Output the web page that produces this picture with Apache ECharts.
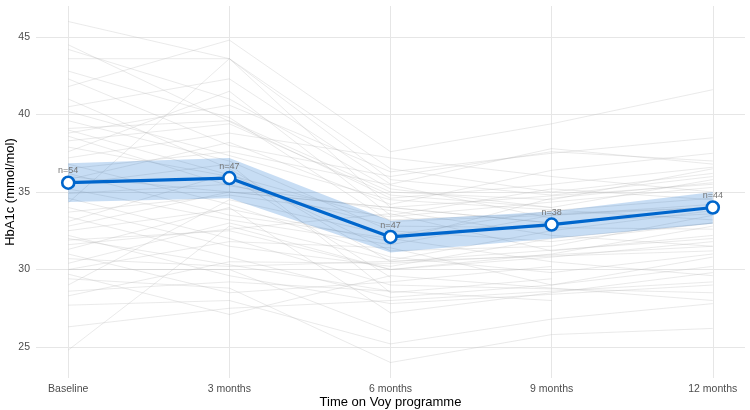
<!DOCTYPE html>
<html>
<head>
<meta charset="utf-8">
<title>HbA1c over time</title>
<script src="https://cdn.jsdelivr.net/npm/echarts@6/dist/echarts.min.js"></script>
<style>
    html, body { margin: 0; padding: 0; background: #fff; }
    #chart { width: 750px; height: 410px; }
</style>
</head>
<body>
<div id="chart"></div>
<script>
var categories = ["Baseline", "3 months", "6 months", "9 months", "12 months"];
var yTicks = [25, 30, 35, 40, 45];

// group mean with 95% CI
var meanVals = [35.6, 35.9, 32.1, 32.9, 34.0];
var ciLow = [34.35, 34.6, 31.1, 32.0, 32.95];
var ciHigh = [36.85, 37.2, 33.15, 33.75, 35.0];
var nLabels = ["n=54", "n=47", "n=47", "n=38", "n=44"];

// individual participants, one value per participant (null = no reading)
var base = [46.0, 44.2, 43.6, 42.8, 42.3, 41.8, 41.0, 40.5, 40.2, 39.6,
    39.1, 38.8, 38.6, 38.3, 37.9, 37.6, 37.2, 36.8, 36.5, 36.2,
    35.8, 35.5, 35.2, 34.9, 34.6, 34.3, 34.0, 33.7, 33.4, 33.1,
    32.8, 32.5, 32.2, 31.9, 31.6, 31.3, 31.0, 30.7, 30.4, 30.0,
    30.0, 29.7, 29.4, 29.0, 28.6, 28.3, 27.7, 26.3, 24.8, 44.5,
    39.0, 36.0, 32.0, 27.5];
var m3 = [43.6, 41.0, 43.6, 39.8, 38.0, 44.8, 36.5, 42.3, null, 37.0,
    39.6, 40.6, 35.4, 39.4, 36.0, 41.5, 38.8, 34.2, 37.6, 33.5,
    38.2, 36.8, 33.2, 35.5, 32.0, 43.6, 31.5, 34.8, 30.8, 36.2,
    35.0, 33.9, 29.6, 32.5, null, 34.0, 28.5, 30.2, 33.0, 30.0,
    31.8, 27.1, 28.8, 34.5, 29.2, 30.5, 28.0, 27.5, 32.8, null,
    null, null, null, null];
var m6 = [36.5, 35.2, 34.0, 33.1, 36.0, 37.6, 30.5, 35.5, 34.5, 32.5,
    35.0, 36.3, null, 34.8, 29.5, 33.5, 37.2, 30.8, null, 32.0,
    34.2, 28.5, 31.6, 32.8, 29.0, 35.8, 30.2, 33.4, 28.2, 31.2,
    null, 31.8, 27.8, 30.0, 33.6, 27.2, 29.2, null, 30.6, 26.0,
    31.4, 29.6, 24.0, 32.2, null, 30.4, 25.2, 28.0, 30.0, 34.6,
    33.2, null, 28.6, null];
var m9 = [35.0, 34.0, null, 33.5, 37.6, 39.4, null, 37.8, null, 31.8,
    34.5, 37.5, 32.2, 34.0, null, 35.2, 36.0, 29.8, 33.3, 30.5,
    36.4, 29.4, 33.5, null, null, 34.8, 32.0, null, 29.0, 31.5,
    33.0, 34.6, null, 30.8, 31.2, 28.5, 30.2, null, 32.5, null,
    29.0, null, 25.8, 33.8, 28.0, null, 26.8, null, 31.0, 35.5,
    null, 33.0, null, null];
var m12 = [36.2, null, 35.5, 34.0, 37.0, 41.6, 32.0, 36.8, 33.2, 33.0,
    36.5, 38.5, 31.5, 35.8, null, 34.5, 35.0, 31.0, null, 29.6,
    37.5, null, 34.2, 32.6, 28.5, 36.0, 33.0, 35.3, 30.2, 33.5,
    null, 35.6, 29.0, 31.8, 32.2, 29.8, null, 31.2, 33.8, null,
    30.8, 28.0, 26.2, 34.6, null, 31.5, 27.8, 29.2, 32.8, 36.6,
    34.0, 33.6, null, null];

var chart = echarts.init(document.getElementById("chart"));
var fontFamily = "Liberation Sans, Arial, sans-serif";

var individualSeries = base.map(function(v, i) {
    var vals = [v, m3[i], m6[i], m9[i], m12[i]];
    var pts = [];
    vals.forEach(function(y, x) {
        if (y !== null) {
            pts.push([x, y]);
        }
    });
    return {
        type: "line",
        data: pts,
        showSymbol: false,
        silent: true,
        z: 1,
        lineStyle: {
            color: "#b8b8b8",
            width: 0.6,
            opacity: 0.5
        },
        animation: false
    };
});

var bandSeries = {
    type: "custom",
    z: 2,
    silent: true,
    data: [0],
    renderItem: function(params, api) {
        var pts = [];
        var i;
        for (i = 0; i < ciHigh.length; i++) {
            pts.push(api.coord([i, ciHigh[i]]));
        }
        for (i = ciLow.length - 1; i >= 0; i--) {
            pts.push(api.coord([i, ciLow[i]]));
        }
        return {
            type: "polygon",
            shape: { points: pts },
            style: { fill: "rgba(0, 102, 204, 0.22)" }
        };
    },
    animation: false
};

var meanSeries = {
    type: "line",
    z: 3,
    data: meanVals.map(function(v, i) {
        return [i, v];
    }),
    symbol: "circle",
    symbolSize: 12,
    lineStyle: { color: "#0066cc", width: 3.2 },
    itemStyle: { color: "#fff", borderColor: "#0066cc", borderWidth: 2.6 },
    label: {
        show: true,
        position: "top",
        distance: 0,
        color: "#757575",
        fontSize: 9,
        fontFamily: fontFamily,
        formatter: function(p) {
            return nLabels[p.dataIndex];
        }
    },
    animation: false
};

var xTicks = [0, 1, 2, 3, 4];

chart.setOption({
    backgroundColor: "#fff",
    grid: {
        left: 36,
        right: 5,
        top: 6,
        bottom: 32,
        containLabel: false,
        outerBoundsMode: "none"
    },
    xAxis: {
        type: "value",
        min: -0.2,
        max: 4.2,
        name: "Time on Voy programme",
        nameLocation: "middle",
        nameGap: 18,
        nameMoveOverlap: false,
        nameTextStyle: { color: "#000", fontSize: 13, fontFamily: fontFamily },
        axisLine: { show: false },
        axisTick: { show: false, customValues: xTicks },
        axisLabel: {
            customValues: xTicks,
            margin: 6,
            color: "#4d4d4d",
            fontSize: 10.5,
            fontFamily: fontFamily,
            formatter: function(v) {
                return categories[Math.round(v)];
            }
        },
        splitLine: { show: true, lineStyle: { color: "#e6e6e6", width: 1 } }
    },
    yAxis: {
        type: "value",
        min: 23,
        max: 47,
        name: "HbA1c (mmol/mol)",
        nameLocation: "middle",
        nameGap: 19,
        nameMoveOverlap: false,
        nameTextStyle: { color: "#000", fontSize: 13, fontFamily: fontFamily },
        axisLine: { show: false },
        axisTick: { show: false, customValues: yTicks },
        axisLabel: {
            customValues: yTicks,
            margin: 6,
            color: "#4d4d4d",
            fontSize: 10.5,
            fontFamily: fontFamily
        },
        splitLine: { show: true, lineStyle: { color: "#e6e6e6", width: 1 } }
    },
    series: individualSeries.concat([bandSeries, meanSeries])
});
</script>
</body>
</html>
